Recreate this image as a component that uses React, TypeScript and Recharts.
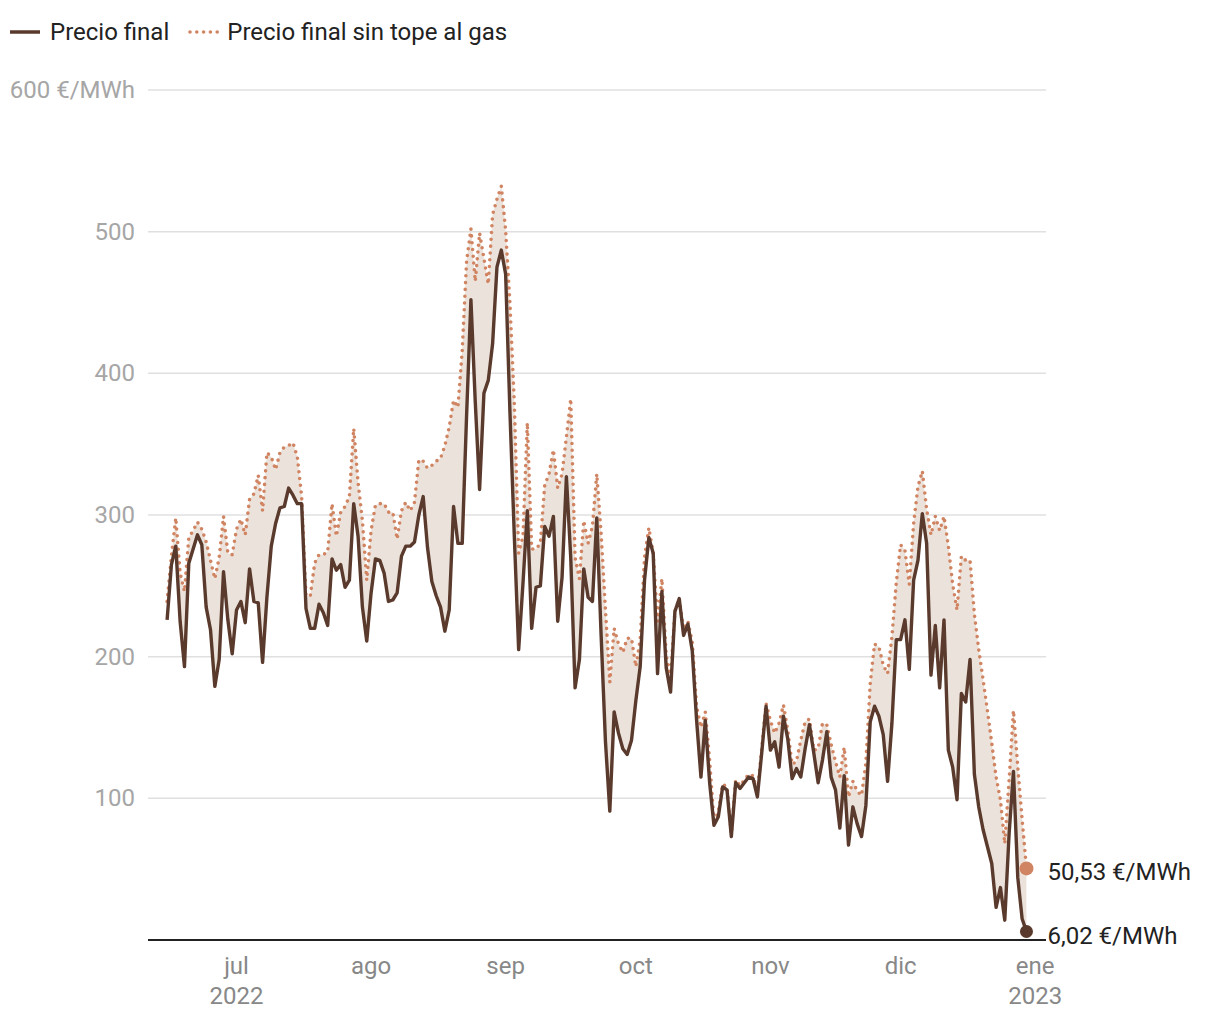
import React from 'react'
import {
  ComposedChart,
  Line,
  Area,
  XAxis,
  YAxis,
  CartesianGrid,
} from 'recharts'

// dia 0 = 15 jun 2022, un valor por dia hasta el 30 dic
const precioFinal = [
  226, 265, 278, 225, 193, 266, 276, 286, 279, 235, 219, 179, 198, 260, 226, 202,
  233, 239, 224, 262, 239, 238, 196, 242, 278, 294, 305, 306, 319, 314, 308, 308,
  234, 220, 220, 237, 231, 222, 269, 261, 265, 249, 254, 308, 285, 235, 211, 245,
  269, 268, 259, 239, 240, 245, 271, 278, 278, 281, 300, 313, 277, 253, 243, 235,
  218, 233, 306, 280, 280, 370, 452, 380, 318, 386, 395, 421, 475, 487, 470, 372,
  285, 205, 252, 303, 220, 249, 250, 292, 285, 299, 225, 256, 327, 270, 178, 198,
  262, 242, 239, 298, 215, 140, 91, 161, 146, 135, 131, 141, 169, 193, 254, 284,
  273, 188, 246, 192, 175, 232, 241, 215, 223, 204, 155, 115, 155, 111, 81, 87,
  108, 106, 73, 111, 107, 111, 115, 114, 101, 132, 165, 134, 140, 122, 158, 142,
  114, 121, 115, 135, 152, 132, 111, 127, 147, 115, 106, 79, 116, 67, 94, 82,
  73, 95, 154, 165, 158, 145, 112, 153, 212, 212, 226, 191, 254, 268, 301, 280,
  187, 222, 178, 226, 134, 122, 99, 174, 168, 198, 117, 94, 78, 66, 54, 23,
  37, 14, 75, 119, 44, 15, 6.02,
]

const precioSinTope = [
  239, 271, 298, 259, 246, 284, 289, 295, 290, 281, 268, 255, 270, 299, 273, 272,
  290, 297, 286, 311, 315, 328, 303, 344, 341, 332, 344, 348, 349, 351, 341, 313,
  243, 243, 266, 272, 272, 274, 308, 285, 302, 306, 313, 361, 323, 296, 254, 289,
  307, 308, 308, 302, 302, 283, 303, 309, 303, 309, 339, 338, 333, 335, 338, 340,
  349, 362, 381, 376, 416, 479, 502, 465, 499, 481, 463, 512, 523, 532, 501, 449,
  379, 273, 285, 365, 276, 276, 280, 321, 329, 346, 319, 329, 355, 382, 270, 255,
  296, 280, 292, 329, 287, 233, 182, 220, 209, 203, 213, 213, 193, 212, 270, 291,
  273, 225, 255, 201, 185, 232, 241, 219, 225, 210, 165, 150, 161, 127, 84, 90,
  110, 108, 75, 113, 109, 113, 117, 116, 104, 135, 167, 155, 146, 153, 166, 148,
  124, 126, 141, 154, 156, 134, 135, 153, 152, 138, 126, 115, 136, 101, 112, 105,
  102, 125, 181, 209, 207, 194, 188, 214, 252, 279, 275, 251, 294, 320, 331, 304,
  286, 299, 289, 299, 278, 251, 233, 271, 268, 268, 230, 205, 184, 162, 139, 115,
  99, 68, 113, 162, 122, 85, 50.53,
]

// primer dia de cada mes, contado desde el 15 jun
const tickDias = [16, 47, 78, 108, 139, 169, 200]
const tickMeses = ['jul', 'ago', 'sep', 'oct', 'nov', 'dic', 'ene']
const tickAnios = ['2022', '', '', '', '', '', '2023']
const yTicks = [100, 200, 300, 400, 500, 600]

const COLOR_FINAL = '#5a3a2c'
const COLOR_SIN = '#d08462'
const FILL = '#ebe3db'
const FONT = 'Roboto, sans-serif'

const data = precioFinal.map((v, i) => ({
  dia: i,
  final: v,
  sin: precioSinTope[i],
}))

const last = data.length - 1
const fmt = (v: number) => v.toFixed(2).replace('.', ',') + ' €/MWh'

function EndDot(color: string, r: number, dy: number) {
  return (props: any) => {
    const { cx, cy, index, value } = props
    if (index !== last) return <g key={'d' + index} />
    return (
      <g key={'d' + index}>
        <circle cx={cx} cy={cy} r={r} fill={color} />
        <text
          x={cx + 21}
          y={cy + dy}
          fontSize={24}
          fontFamily={FONT}
          fill="#222"
          dominantBaseline="central"
        >
          {fmt(Array.isArray(value) ? value[1] : value)}
        </text>
      </g>
    )
  }
}

function XTick(props: any) {
  const { x, y, index } = props
  return (
    <g>
      <text x={x} y={y + 26} textAnchor="middle" fontSize={24} fontFamily={FONT} fill="#888">
        {tickMeses[index]}
      </text>
      <text x={x} y={y + 56} textAnchor="middle" fontSize={24} fontFamily={FONT} fill="#888">
        {tickAnios[index]}
      </text>
    </g>
  )
}

function YTick(props: any) {
  const { y, payload } = props
  const label = payload.value === 600 ? '600 €/MWh' : String(payload.value)
  return (
    <text
      x={135}
      y={y}
      textAnchor="end"
      dominantBaseline="central"
      fontSize={24}
      fontFamily={FONT}
      fill="#a6a6a6"
    >
      {label}
    </text>
  )
}

function Legend() {
  return (
    <div
      style={{
        position: 'absolute',
        left: 10,
        top: 19,
        display: 'flex',
        alignItems: 'center',
        fontFamily: FONT,
        fontSize: 24,
        color: '#222',
        lineHeight: '26px',
      }}
    >
      <svg width={40} height={26}>
        <line x1={0} y1={13} x2={30} y2={13} stroke={COLOR_FINAL} strokeWidth={3.5} />
      </svg>
      <span style={{ marginRight: 19 }}>Precio final</span>
      <svg width={39} height={26}>
        <line
          x1={2}
          y1={13}
          x2={30}
          y2={13}
          stroke={COLOR_SIN}
          strokeWidth={3.6}
          strokeDasharray="0 6.8"
          strokeLinecap="round"
        />
      </svg>
      <span>Precio final sin tope al gas</span>
    </div>
  )
}

export default function App() {
  return (
    <div style={{ position: 'absolute', left: 0, top: 0, width: 1220, height: 1020, background: '#fff' }}>
      <Legend />
      <ComposedChart
        width={1220}
        height={1020}
        data={data}
        margin={{ top: 90, right: 174, bottom: 20, left: 0 }}
      >
        <CartesianGrid vertical={false} stroke="#e0e0e0" strokeWidth={1.5} />
        <XAxis
          dataKey="dia"
          type="number"
          domain={[-4.4, 202.5]}
          ticks={tickDias}
          tick={<XTick />}
          tickLine={false}
          axisLine={{ stroke: '#222', strokeWidth: 2 }}
          height={60}
          interval={0}
        />
        <YAxis
          width={148}
          domain={[0, 600]}
          ticks={yTicks}
          tick={<YTick />}
          axisLine={false}
          tickLine={false}
          interval={0}
        />
        <Area
          type="linear"
          dataKey={(d: any) => [d.final, d.sin]}
          fill={FILL}
          fillOpacity={1}
          stroke="none"
          isAnimationActive={false}
          activeDot={false}
        />
        <Line
          type="linear"
          dataKey="sin"
          stroke={COLOR_SIN}
          strokeWidth={3.6}
          strokeDasharray="0 6.8"
          strokeLinecap="round"
          dot={EndDot(COLOR_SIN, 7, 4)}
          activeDot={false}
          isAnimationActive={false}
        />
        <Line
          type="linear"
          dataKey="final"
          stroke={COLOR_FINAL}
          strokeWidth={3.4}
          strokeLinejoin="round"
          dot={EndDot(COLOR_FINAL, 6.5, 5)}
          activeDot={false}
          isAnimationActive={false}
        />
      </ComposedChart>
    </div>
  )
}
